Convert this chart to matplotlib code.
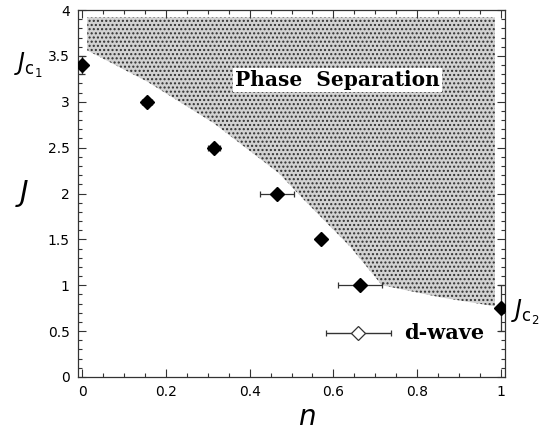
import matplotlib
matplotlib.use("Agg")
import matplotlib.pyplot as plt
from matplotlib.ticker import MultipleLocator

# data points (filled diamonds)
n_vals = [0.0, 0.155, 0.315, 0.465, 0.570, 0.663, 1.0]
J_vals = [3.4, 3.0, 2.5, 2.0, 1.5, 1.0, 0.75]
n_err = [0.0, 0.012, 0.015, 0.04, 0.0, 0.052, 0.0]
J_err = [0.1, 0.0, 0.0, 0.0, 0.0, 0.0, 0.25]

# phase separation region boundary
ps_n = [0.012, 0.012, 0.155, 0.313, 0.47, 0.53, 0.64, 0.716, 0.854, 0.986, 0.986]
ps_J = [3.92, 3.56, 3.22, 2.77, 2.22, 1.93, 1.42, 1.0, 0.87, 0.77, 3.92]

# d-wave legend symbol
dw_n = [0.66]
dw_J = [0.48]
dw_err = [0.078]

fig = plt.figure(figsize=(5.54, 4.30), dpi=100)
ax = fig.add_axes([0.1408, 0.1233, 0.9116 - 0.1408, 0.9767 - 0.1233])

plt.rcParams['hatch.linewidth'] = 1.0
ax.fill(ps_n, ps_J, facecolor='#d2d2d2', edgecolor='#303030', hatch='....',
        linewidth=0, zorder=1)

ax.errorbar(n_vals, J_vals, xerr=n_err, yerr=J_err, fmt='D', color='black',
            ecolor='#333333', elinewidth=0.9, capsize=2.5, capthick=0.9,
            markersize=7.5, zorder=4)

ax.errorbar(dw_n, dw_J, xerr=dw_err, fmt='D', mfc='white', mec='#333333',
            ecolor='#333333', elinewidth=1.0, capsize=2.5, capthick=1.0,
            markersize=7, mew=0.9, zorder=4)

ax.text(0.77, 0.48, 'd-wave', family='DejaVu Serif', fontweight='bold',
        fontsize=15, va='center', ha='left', zorder=5)

ax.text(0.61, 3.24, 'Phase  Separation', family='DejaVu Serif',
        fontweight='bold', fontsize=14.5,
        va='center', ha='center', zorder=5,
        bbox=dict(facecolor='white', edgecolor='none', pad=1.5))

ax.set_xlim(-0.01, 1.01)
ax.set_ylim(0, 4)
ax.xaxis.set_major_locator(MultipleLocator(0.2))
ax.xaxis.set_minor_locator(MultipleLocator(0.05))
ax.yaxis.set_major_locator(MultipleLocator(0.5))
ax.yaxis.set_minor_locator(MultipleLocator(0.1))
ax.set_xticks([0, 0.2, 0.4, 0.6, 0.8, 1.0])
ax.set_xticklabels(['0', '0.2', '0.4', '0.6', '0.8', '1'])
ax.set_yticks([0, 0.5, 1, 1.5, 2, 2.5, 3, 3.5, 4])
ax.set_yticklabels(['0', '0.5', '1', '1.5', '2', '2.5', '3', '3.5', '4'])
ax.tick_params(which='both', direction='in', top=True, right=True,
               labelsize=10, color='#333333', width=0.8)
ax.tick_params(which='major', length=6, pad=6)
ax.tick_params(which='minor', length=3)
for s in ax.spines.values():
    s.set_linewidth(0.9)
    s.set_color('#333333')

ax.set_xlabel('$n$', fontsize=20)
ax.xaxis.set_label_coords(0.535, -0.072)
ax.set_ylabel('$J$', fontsize=21, rotation=0, va='center')
ax.yaxis.set_label_coords(-0.13, 0.5)

fig.text(0.025, (430 - 65) / 430, r'$J_{\mathrm{c}_1}$', fontsize=17,
         va='center', ha='left')
fig.text(0.922, (430 - 312) / 430, r'$J_{\mathrm{c}_2}$', fontsize=17,
         va='center', ha='left')

fig.savefig('out.png', dpi=100)
